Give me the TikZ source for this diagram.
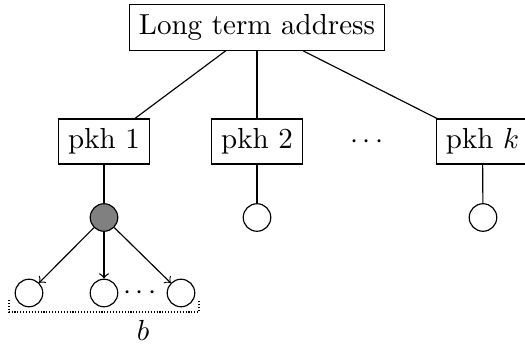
\documentclass[tikz,border=0pt]{standalone}
\begin{document}
\begin{tikzpicture}[x=0.3448pt,y=-0.3448pt,
  box/.style={draw,rectangle,inner sep=0.3333em},
  leaf/.style={draw,circle,fill=white,minimum size=9.5pt,inner sep=0pt},
  full/.style={draw,circle,fill=gray,minimum size=9.5pt,inner sep=0pt},
  brk/.style={dash pattern=on 0.4pt off 0.6pt}]
\useasboundingbox (0,0) rectangle (525,347);
\node[box] (lta) at (257,27.5) {Long term address};
\node[box] (p1) at (104,141.5) {pkh 1};
\node[box] (p2) at (257,141.5) {pkh 2};
\node (dots) at (367,142) {$\cdots$};
\node[box] (pk) at (482.5,141.5) {pkh $k$};
\draw (lta) -- (p1);
\draw (lta) -- (p2);
\draw (lta) -- (pk);
\node[full] (f1) at (104,217.5) {};
\node[leaf] (c2) at (257,217.5) {};
\node[leaf] (ck) at (483,217.5) {};
\draw (p1) -- (f1);
\draw (p2) -- (c2);
\draw (pk) -- (ck);
\node[leaf] (l1) at (29,293) {};
\node[leaf] (l2) at (104,293) {};
\node[leaf] (l3) at (181,293) {};
\node (ldots) at (140,293) {$\cdots$};
\draw[->] (f1) -- (l1);
\draw[->] (f1) -- (l2);
\draw[->] (f1) -- (l3);
\coordinate (ba) at (9,300);
\coordinate (bb) at (9,312);
\coordinate (bc) at (199,312);
\coordinate (bd) at (199,300);
\draw[brk] (ba) -- (bb) -- (bc) -- (bd);
\node (b) at (143,330) {$b$};
\end{tikzpicture}
\end{document}
